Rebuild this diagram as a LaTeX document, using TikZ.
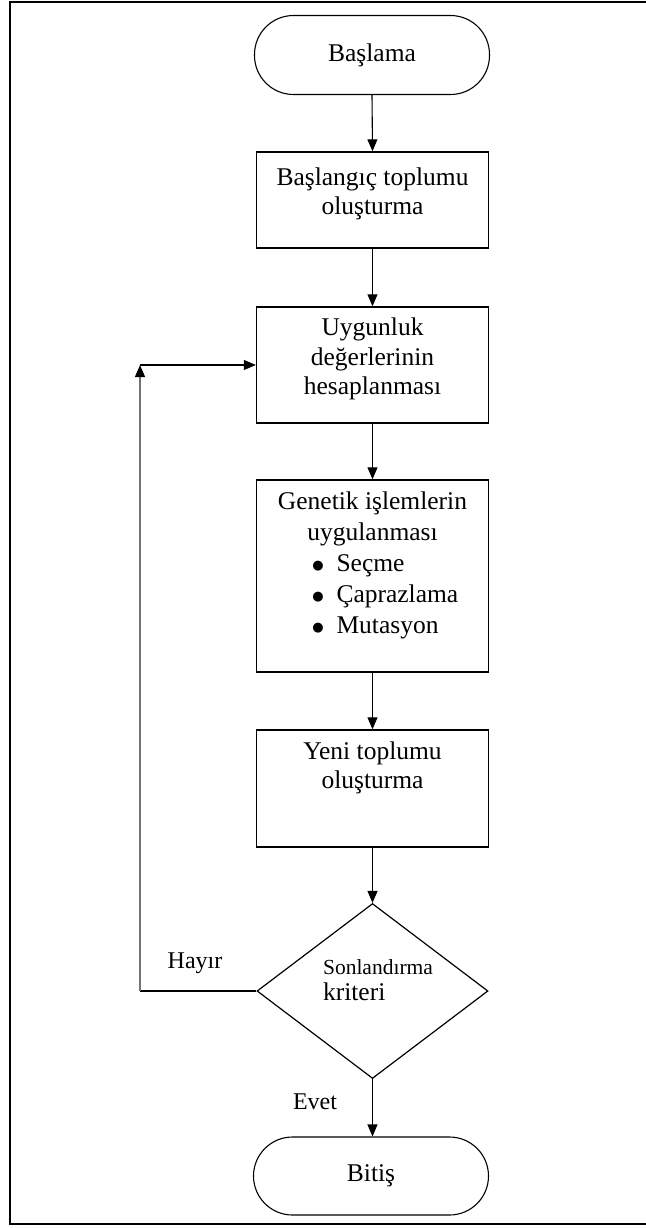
\documentclass[tikz,border=0pt]{standalone}
\usepackage{fontspec}
\setmainfont{Liberation Serif}
\newfontfamily\djv{DejaVu Sans}
\usetikzlibrary{arrows.meta,shapes.geometric}
\newcommand{\bigbul}{\makebox[9pt][c]{\raisebox{1.5pt}{\djv\fontsize{13}{15}\selectfont ●}}}
\begin{document}
\begin{tikzpicture}[x=1pt,y=-1pt,
  box/.style={draw, line width=1.4pt, inner sep=0pt, minimum width=232pt},
  term/.style={draw, line width=1.1pt, rounded corners=39pt, inner sep=0pt, minimum width=235pt, minimum height=79pt, font=\fontsize{25.5}{30}\selectfont},
  txt/.style={align=center, inner sep=0pt, font=\fontsize{25.5}{29.5}\selectfont},
  dec/.style={draw, shape=diamond, line width=1.2pt, inner sep=0pt, minimum width=231pt, minimum height=175pt},
  conn/.style={line width=1.1pt, -{Triangle[length=12pt,width=10pt,color=black]}},
  plain/.style={line width=1.1pt},
  lbl/.style={inner sep=0pt, font=\fontsize{24}{28}\selectfont},
]
\useasboundingbox (0,0) rectangle (645,1228);
% outer frame
\draw[line width=2.2pt] (650,2) -- (10,2) -- (10,1224) -- (650,1224);

% nodes
\node[term] (start) at (372,55) {Başlama};

\node[box, minimum height=96pt] (b2) at (372.5,200) {};
\node[txt] (t2) at (372.5,194) {Başlangıç toplumu\\oluşturma};

\node[box, minimum height=116pt] (b3) at (372.5,365) {};
\node[txt] (t3) at (372.5,359) {Uygunluk\\değerlerinin\\hesaplanması};

\node[box, minimum height=192pt] (b4) at (372.5,576) {};
\node[txt, font=\fontsize{25.5}{31}\selectfont] (t4) at (372.5,565) {Genetik işlemlerin\\uygulanması\\
  \makebox[118pt][l]{\bigbul\hspace{14pt}Seçme}\\
  \makebox[118pt][l]{\bigbul\hspace{14pt}Çaprazlama}\\
  \makebox[118pt][l]{\bigbul\hspace{14pt}Mutasyon}};

\node[box, minimum height=117pt] (b5) at (372.5,788.5) {};
\node[txt] (t5) at (372.5,768) {Yeni toplumu\\oluşturma};

\node[dec] (d) at (372.5,991) {};
\node[align=left, inner sep=0pt, font=\fontsize{25.5}{26}\selectfont] (dt) at (378,980)
  {{\fontsize{21.5}{26}\selectfont Sonlandırma}\\kriteri};

\node[term, minimum height=78pt] (end) at (371,1176) {Bitiş};

\coordinate (c2) at (140,991);
\coordinate (c1) at (140,365);

% connectors
\draw[conn] (start.south) -- (b2.north);
\draw[conn] (b2.south) -- (b3.north);
\draw[conn] (b3.south) -- (b4.north);
\draw[conn] (b4.south) -- (b5.north);
\draw[conn] (b5.south) -- (d.north);
\draw[conn] (d.south) -- (end.north -| d.south);
\draw[plain] (d.west) -- (c2);
\draw[conn, draw=black!55] (c2) -- (c1);
\draw[conn] (c1) -- (b3.west);

% labels
\node[lbl] (hayir) at (195,963) {Hayır};
\node[lbl] (evet) at (315,1102) {Evet};
\end{tikzpicture}
\end{document}
